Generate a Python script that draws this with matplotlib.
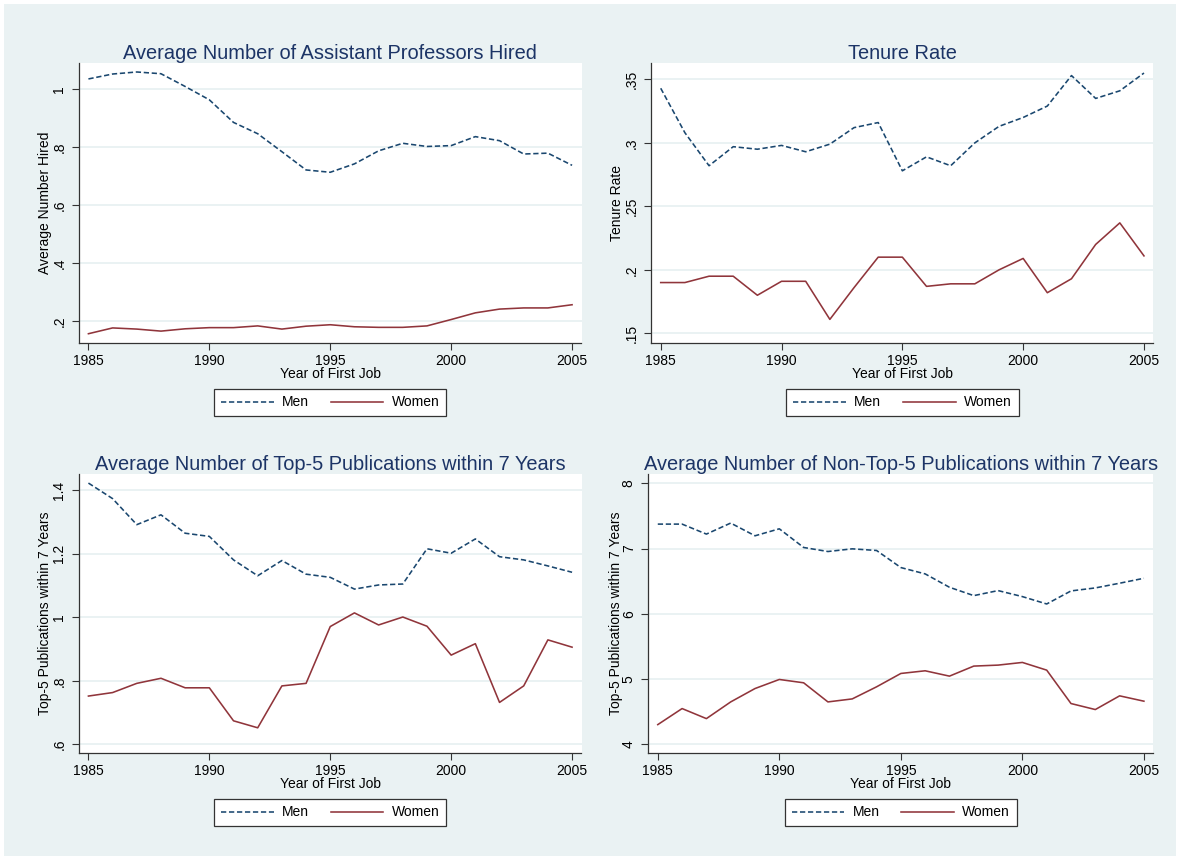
import matplotlib
matplotlib.use("Agg")
import matplotlib.pyplot as plt
from matplotlib.patches import Rectangle

plt.rcParams['font.family'] = ['Liberation Sans', 'DejaVu Sans']

years = list(range(1985, 2006))
x_ticks = [1985, 1990, 1995, 2000, 2005]

# Panel 1: Average Number of Assistant Professors Hired
hired_men = [1.035, 1.052, 1.059, 1.053, 1.009, 0.963, 0.885, 0.846, 0.784, 0.721, 0.713,
             0.742, 0.787, 0.813, 0.802, 0.805, 0.836, 0.822, 0.776, 0.779, 0.737]
hired_women = [0.156, 0.176, 0.172, 0.165, 0.173, 0.177, 0.177, 0.183, 0.172, 0.182, 0.187,
               0.180, 0.178, 0.178, 0.183, 0.205, 0.228, 0.241, 0.245, 0.245, 0.256]
hired_yticks = [0.2, 0.4, 0.6, 0.8, 1.0]
hired_ylabels = ['.2', '.4', '.6', '.8', '1']

# Panel 2: Tenure Rate
tenure_men = [0.343, 0.308, 0.282, 0.297, 0.295, 0.298, 0.293, 0.299, 0.312, 0.316, 0.278,
              0.289, 0.282, 0.300, 0.313, 0.320, 0.329, 0.353, 0.335, 0.341, 0.355]
tenure_women = [0.190, 0.190, 0.195, 0.195, 0.180, 0.191, 0.191, 0.161, 0.186, 0.210, 0.210,
                0.187, 0.189, 0.189, 0.200, 0.209, 0.182, 0.193, 0.220, 0.237, 0.211]
tenure_yticks = [0.15, 0.20, 0.25, 0.30, 0.35]
tenure_ylabels = ['.15', '.2', '.25', '.3', '.35']

# Panel 3: Top-5 publications
top5_men = [1.423, 1.374, 1.292, 1.323, 1.265, 1.255, 1.181, 1.131, 1.179, 1.136, 1.126,
            1.089, 1.102, 1.105, 1.216, 1.202, 1.247, 1.191, 1.181, 1.162, 1.142]
top5_women = [0.752, 0.763, 0.792, 0.808, 0.778, 0.778, 0.674, 0.652, 0.784, 0.792, 0.971,
              1.014, 0.976, 1.001, 0.972, 0.881, 0.917, 0.732, 0.784, 0.929, 0.906]
top5_yticks = [0.6, 0.8, 1.0, 1.2, 1.4]
top5_ylabels = ['.6', '.8', '1', '1.2', '1.4']

# Panel 4: Non-top-5 publications
non5_men = [7.375, 7.375, 7.222, 7.391, 7.196, 7.303, 7.017, 6.955, 6.996, 6.971, 6.709,
            6.612, 6.407, 6.279, 6.356, 6.264, 6.151, 6.351, 6.397, 6.469, 6.545]
non5_women = [4.302, 4.548, 4.394, 4.650, 4.855, 4.994, 4.943, 4.650, 4.696, 4.881, 5.086,
              5.127, 5.045, 5.199, 5.214, 5.255, 5.137, 4.625, 4.533, 4.743, 4.661]
non5_yticks = [4, 5, 6, 7, 8]
non5_ylabels = ['4', '5', '6', '7', '8']

titles = ["Average Number of Assistant Professors Hired", "Tenure Rate",
          "Average Number of Top-5 Publications within 7 Years",
          "Average Number of Non-Top-5 Publications within 7 Years"]
ylabels = ["Average Number Hired", "Tenure Rate",
           "Top-5 Publications within 7 Years", "Top-5 Publications within 7 Years"]
xlabel = "Year of First Job"
legend_labels = ["Men", "Women"]

W, H = 1180, 860
BG = '#EAF2F3'
MEN_C = '#1a476f'
WOMEN_C = '#90353b'
TITLE_C = '#1c3466'
FS = 10

fig = plt.figure(figsize=(W / 100, H / 100), dpi=100)
fig.patch.set_facecolor('white')
fig.add_artist(Rectangle((4 / W, 4 / H), (W - 8) / W, (H - 8) / H,
                         transform=fig.transFigure, facecolor=BG, edgecolor='none', zorder=-10))

def px_axes(l, t, r, b):
    return fig.add_axes([l / W, 1 - b / H, (r - l) / W, (b - t) / H])

panels = [
    dict(box=(79, 63, 581.5, 343), men=hired_men, women=hired_women, yt=hired_yticks,
         yl=hired_ylabels, ylim=(0.124, 1.09), ylab_x=45.5),
    dict(box=(651.3, 63, 1153.4, 343), men=tenure_men, women=tenure_women, yt=tenure_yticks,
         yl=tenure_ylabels, ylim=(0.1424, 0.3629), ylab_x=617),
    dict(box=(79, 474, 581.5, 753), men=top5_men, women=top5_women, yt=top5_yticks,
         yl=top5_ylabels, ylim=(0.5726, 1.4516), ylab_x=45.5),
    dict(box=(648.3, 474, 1153.4, 753), men=non5_men, women=non5_women, yt=non5_yticks,
         yl=non5_ylabels, ylim=(3.867, 8.143), ylab_x=616),
]

for i, p in enumerate(panels):
    l, t, r, b = p['box']
    ax = px_axes(l, t, r, b)
    ax.set_facecolor('white')
    ax.set_xlim(1984.61, 2005.39)
    ax.set_ylim(*p['ylim'])
    ax.plot(years, p['men'], color=MEN_C, lw=1.15, dashes=(3.3, 1.7), label=legend_labels[0])
    ax.plot(years, p['women'], color=WOMEN_C, lw=1.15, label=legend_labels[1])
    for y in p['yt']:
        ax.axhline(y, color=BG, lw=1.4, zorder=0)
    ax.set_xticks(x_ticks)
    ax.set_xticklabels([str(x) for x in x_ticks], fontsize=FS)
    ax.set_yticks(p['yt'])
    ax.set_yticklabels(p['yl'], fontsize=FS, rotation=90, va='center')
    ax.tick_params(axis='both', direction='out', length=5, width=0.8, color='#333333',
                   labelcolor='black')
    ax.tick_params(axis='x', pad=3)
    ax.tick_params(axis='y', pad=4)
    for s in ['top', 'right']:
        ax.spines[s].set_visible(False)
    for s in ['left', 'bottom']:
        ax.spines[s].set_color('#333333')
        ax.spines[s].set_linewidth(0.9)
    ax.set_xlabel(xlabel, fontsize=FS, labelpad=-1)
    cx = (l + r) / 2
    ax.set_title(titles[i], fontsize=14.4, color=TITLE_C, pad=3)
    fig.text(p['ylab_x'] / W, 1 - ((t + b) / 2) / H, ylabels[i], rotation=90,
             fontsize=FS, ha='center', va='center')
    leg_y = b + 59.5
    leg = ax.legend(loc='center', bbox_to_anchor=(cx / W, 1 - leg_y / H),
                    bbox_transform=fig.transFigure, ncol=2, fontsize=FS,
                    handlelength=3.8, handletextpad=0.6, columnspacing=1.55,
                    frameon=True, fancybox=False, borderpad=0.5, borderaxespad=0)
    fr = leg.get_frame()
    fr.set_edgecolor('#333333')
    fr.set_linewidth(0.9)
    fr.set_facecolor('white')
    fr.set_alpha(1)

fig.savefig('out.png', dpi=100, facecolor='white')
